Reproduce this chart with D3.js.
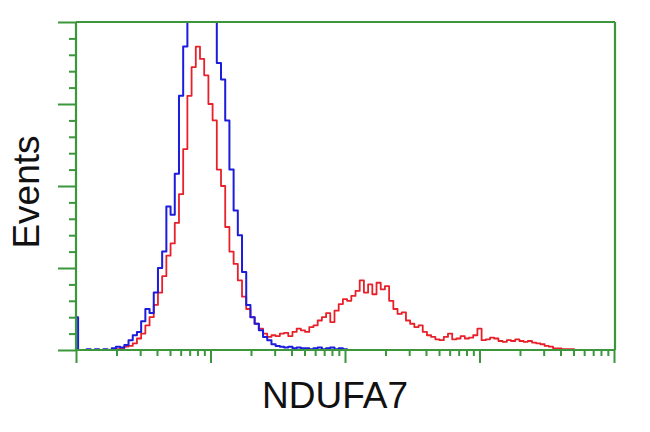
<!DOCTYPE html>
<html>
<head>
<meta charset="utf-8">
<script src="https://cdn.jsdelivr.net/npm/d3@7"></script>
<style>
  html, body { margin: 0; padding: 0; background: #ffffff; }
  svg { display: block; }
</style>
</head>
<body>
<svg id="chart" width="650" height="432"></svg>
<script>
// ---------------- data ----------------
const xLabel = "NDUFA7";
const yLabel = "Events";
const channelsPerDecade = 32;           // histogram channel resolution (log scale)
const xDomain = [1, 10000];
const yDomain = [0, 400];
const yMajorTicks = [0, 100, 200, 300, 400];
const yMinorTicks = [20, 40, 60, 80, 120, 140, 160, 180, 220, 240, 260, 280, 320, 340, 360, 380];
const xMajorTicks = [1, 10, 100, 1000, 10000];
const xMinorTicks = [2,3,4,5,6,7,8,9, 20,30,40,50,60,70,80,90, 200,300,400,500,600,700,800,900, 2000,3000,4000,5000,6000,7000,8000,9000];

// control (blue) counts per channel, channel 0 ..
const blueCounts = [
  40, 0, 0, 1, 0, 1, 0, 1, 0, 2,
  4, 3, 6, 12, 18, 22, 35, 50, 45, 70,
  100, 120, 175, 165, 215, 310, 370, 420, 460, 480,
  510, 490, 450, 400, 350, 330, 280, 220, 170, 140,
  95, 55, 40, 32, 24, 16, 12, 7, 5, 4,
  3, 4, 2, 3, 2, 2, 1, 2, 3, 1,
  2, 3, 1, 2, 1, 0, 0, 0, 0, 0
];
// NDUFA7 stained (red) counts per channel
const redCounts = [
  0, 0, 0, 0, 0, 0, 0, 0, 0, 0,
  1, 2, 4, 5, 8, 14, 20, 30, 40, 55,
  70, 90, 115, 130, 155, 190, 245, 310, 345, 370,
  355, 335, 300, 280, 220, 200, 150, 120, 105, 85,
  65, 50, 40, 32, 26, 20, 16, 18, 17, 20,
  21, 17, 22, 26, 24, 22, 28, 30, 36, 40,
  45, 34, 48, 56, 62, 60, 66, 72, 85, 70,
  80, 68, 82, 74, 78, 60, 50, 44, 46, 36,
  32, 28, 30, 22, 18, 16, 13, 12, 16, 20,
  13, 14, 17, 14, 15, 18, 26, 12, 13, 15,
  14, 11, 10, 12, 11, 13, 11, 10, 11, 9,
  8, 7, 5, 4, 2, 2, 1, 1, 1, 0,
  0, 0
];

// ---------------- layout ----------------
const svg = d3.select("#chart");
const pLeft = 76, pRight = 614, pTop = 22, pBottom = 350;
const green = "#3c963c";

const x = d3.scaleLog().domain(xDomain).range([pLeft, pRight]);
const y = d3.scaleLinear().domain(yDomain).range([pBottom, pTop]);

svg.append("defs").append("clipPath").attr("id", "plotclip")
  .append("rect").attr("x", pLeft).attr("y", pTop).attr("width", pRight - pLeft + 2).attr("height", pBottom - pTop);

const toPoints = counts => counts.map((c, k) => ({ v: Math.pow(10, k / channelsPerDecade), c }));

const line = d3.line()
  .x(d => x(d.v))
  .y(d => y(d.c))
  .curve(d3.curveStep);

const plot = svg.append("g").attr("clip-path", "url(#plotclip)");
plot.append("path").datum(toPoints(redCounts))
  .attr("d", line).attr("fill", "none")
  .attr("stroke", "#e8202a").attr("stroke-width", 1.8).attr("stroke-linejoin", "round");
plot.append("path").datum(toPoints(blueCounts))
  .attr("d", line).attr("fill", "none")
  .attr("stroke", "#1c1cdc").attr("stroke-width", 2).attr("stroke-linejoin", "round");

// ---------------- axes ----------------
function styleAxis(g) {
  g.select(".domain").remove();
  g.selectAll(".tick line").attr("stroke", green).attr("stroke-width", 2);
  g.selectAll(".tick text").remove();
}

svg.append("g").attr("transform", `translate(${pLeft},0)`)
  .call(d3.axisLeft(y).tickValues(yMajorTicks).tickSize(18).tickFormat(""))
  .call(styleAxis);
svg.append("g").attr("transform", `translate(${pLeft},0)`)
  .call(d3.axisLeft(y).tickValues(yMinorTicks).tickSize(7).tickFormat(""))
  .call(styleAxis);

svg.append("g").attr("transform", `translate(0,${pBottom})`)
  .call(d3.axisBottom(x).tickValues(xMajorTicks).tickSize(13).tickFormat(""))
  .call(styleAxis);
svg.append("g").attr("transform", `translate(0,${pBottom})`)
  .call(d3.axisBottom(x).tickValues(xMinorTicks).tickSize(6).tickFormat(""))
  .call(styleAxis);

// frame
const frame = svg.append("g").attr("stroke", green).attr("stroke-width", 2.2).attr("fill", "none");
frame.append("line").attr("x1", pLeft).attr("x2", pLeft).attr("y1", pTop).attr("y2", pBottom);
frame.append("line").attr("x1", pLeft).attr("x2", pRight + 1).attr("y1", pBottom).attr("y2", pBottom);
frame.append("line").attr("x1", pLeft).attr("x2", pRight + 1).attr("y1", pTop).attr("y2", pTop);
frame.append("line").attr("x1", pRight + 1).attr("x2", pRight + 1).attr("y1", pTop).attr("y2", pBottom);

// labels
svg.append("text")
  .attr("x", 335).attr("y", 408)
  .attr("text-anchor", "middle")
  .attr("font-family", "Liberation Sans, Arial, sans-serif")
  .attr("font-size", 37).attr("fill", "#111")
  .text(xLabel);

svg.append("text")
  .attr("transform", "translate(39,192) rotate(-90)")
  .attr("text-anchor", "middle")
  .attr("font-family", "Liberation Sans, Arial, sans-serif")
  .attr("font-size", 37).attr("fill", "#111")
  .text(yLabel);
</script>
</body>
</html>
